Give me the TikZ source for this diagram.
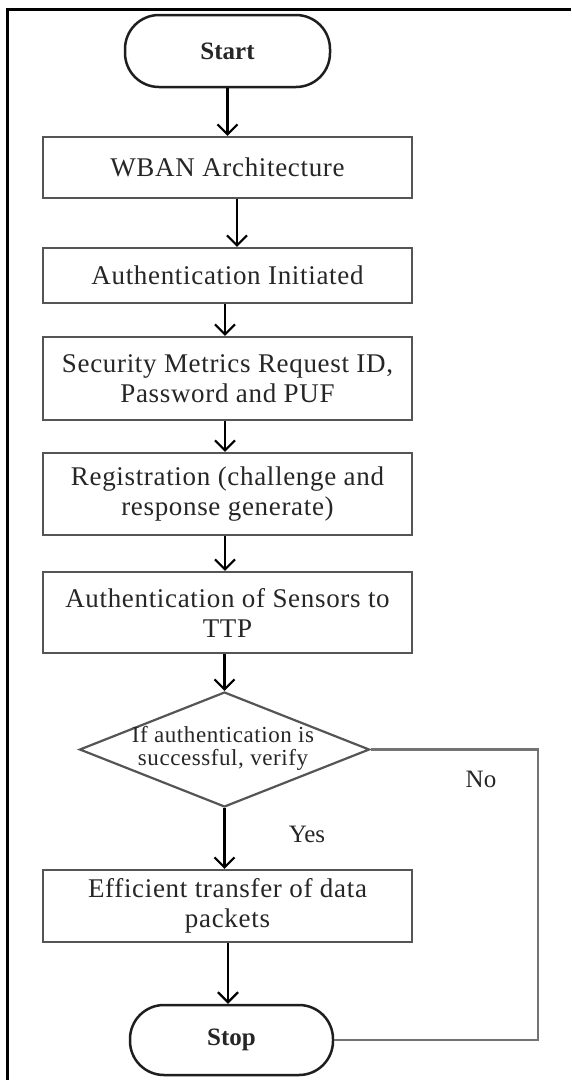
\documentclass[tikz,border=0pt]{standalone}
\usepackage{fontspec}
\setmainfont{Liberation Serif}
\newfontfamily\boxfont[LetterSpace=2.5]{Liberation Serif}
\usetikzlibrary{arrows.meta,shapes.geometric}
\definecolor{boxgray}{RGB}{85,85,85}
\definecolor{linegray}{RGB}{115,115,115}
\definecolor{termblack}{RGB}{30,30,30}
\begin{document}
\begin{tikzpicture}[x=1pt,y=-1pt,
  procbox/.style={draw=boxgray, line width=2.2pt, minimum width=369pt, inner sep=0pt, align=center,
    font=\boxfont\fontsize{27}{30}\selectfont, text=black!85},
  termbox/.style={draw=termblack, line width=2.5pt, rounded corners=34pt, minimum width=205pt,
    minimum height=72pt, inner sep=0pt, font=\bfseries\fontsize{25}{28}\selectfont, text=black!85},
  decbox/.style={draw=boxgray, line width=2.2pt, shape=diamond, minimum width=290pt, minimum height=115pt, inner sep=0pt},
  arr/.style={draw=black, line width=2.2pt, -{Straight Barb[length=10pt,width=20pt]}},
  nopath/.style={draw=linegray, line width=2.5pt},
  lbl/.style={font=\fontsize{25}{28}\selectfont, text=black!85, inner sep=0pt}
]
\useasboundingbox (0,0) rectangle (571,1080);
\fill[white] (0,0) rectangle (571,1080);
% frame
\draw[line width=3.5pt] (7.5,1080) -- (7.5,9.5) -- (571,9.5);

\node[termbox] (start) at (227.5,51) {Start};
\node[procbox, minimum height=61pt] (wban) at (227.5,167.5) {WBAN Architecture};
\node[procbox, minimum height=55pt] (init) at (227.5,275.5) {Authentication Initiated};
\node[procbox, minimum height=83pt] (sec) at (227.5,378.5) {Security Metrics Request ID,\\ Password and PUF};
\node[procbox, minimum height=82pt] (reg) at (227.5,494) {Registration (challenge and\\ response generate)};
\node[procbox, minimum height=81pt] (sens) at (227.5,612.5) {Authentication of Sensors to\\ TTP};
\node[decbox] (dec) at (224.5,749.5) {};
\node[align=center, inner sep=0pt, font=\boxfont\fontsize{23}{23}\selectfont, text=black!85] (dectext) at (223,748) {If authentication is\\ successful, verify};
\node[procbox, minimum height=72pt] (eff) at (227.5,906) {Efficient transfer of data\\ packets};
\node[termbox, minimum width=203pt, minimum height=70pt] (stop) at (231.5,1040) {Stop};

\node[lbl] (no) at (481,779) {No};
\node[lbl] (yes) at (307,834) {Yes};

\coordinate (ncorner) at (538,749.5);

\draw[arr] (start.south) -- (wban.north);
\draw[arr] ([xshift=9.5pt]wban.south) -- ([xshift=9.5pt]init.north);
\draw[arr] ([xshift=-2.5pt]init.south) -- ([xshift=-2.5pt]sec.north);
\draw[arr] ([xshift=-2.5pt]sec.south) -- ([xshift=-2.5pt]reg.north);
\draw[arr] ([xshift=-2.5pt]reg.south) -- ([xshift=-2.5pt]sens.north);
\draw[arr] ([xshift=-3pt]sens.south) -- (dec.north);
\draw[arr] (dec.south) -- ([xshift=-3pt]eff.north);
\draw[arr] ([xshift=0.5pt]eff.south) -- ([xshift=-3.5pt]stop.north);
\draw[nopath] (dec.east) -- (ncorner) |- (stop.east);
\end{tikzpicture}
\end{document}
